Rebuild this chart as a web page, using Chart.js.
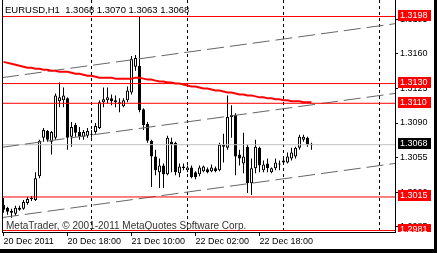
<!DOCTYPE html>
<html><head><meta charset="utf-8">
<script src="https://cdn.jsdelivr.net/npm/chart.js@4"></script>
<style>html,body{margin:0;padding:0;background:#000;overflow:hidden}canvas{display:block}</style>
</head><body>
<canvas id="c" width="434" height="249"></canvas>
<script>
// EURUSD H1 candles (open, high, low, close)
const opens  = [1.3007,1.3004,1.3001,1.2998,1.3002,1.3003,1.3009,1.3013,1.3012,1.3036,
                1.3075,1.3082,1.3071,1.3075,1.3112,1.3113,1.3115,1.3076,1.3088,1.3081,
                1.3076,1.3077,1.3078,1.3081,1.3085,1.3111,1.3113,1.3115,1.3113,1.3111,
                1.3107,1.3113,1.3121,1.3147,1.3148,1.3104,1.3089,1.3072,1.3056,1.3040,
                1.3047,1.3038,1.3071,1.3070,1.3039,1.3046,1.3042,1.3045,1.3040,1.3038,
                1.3041,1.3043,1.3041,1.3044,1.3042,1.3068,1.3065,1.3096,1.3098,1.3058,
                1.3049,1.3066,1.3029,1.3044,1.3065,1.3042,1.3049,1.3040,1.3044,1.3048,
                1.3050,1.3050,1.3054,1.3056,1.3065,1.3073,1.3075,1.3068];
const highs  = [1.3014,1.3005,1.3003,1.3006,1.3006,1.3012,1.3015,1.3016,1.3040,1.3073,
                1.3085,1.3083,1.3082,1.3120,1.3131,1.3126,1.3116,1.3091,1.3090,1.3086,
                1.3083,1.3085,1.3083,1.3090,1.3113,1.3126,1.3126,1.3119,1.3118,1.3115,
                1.3115,1.3127,1.3158,1.3159,1.3198,1.3105,1.3091,1.3073,1.3063,1.3054,
                1.3049,1.3077,1.3075,1.3071,1.3049,1.3049,1.3047,1.3047,1.3041,1.3047,
                1.3047,1.3045,1.3048,1.3046,1.3070,1.3079,1.3118,1.3108,1.3100,1.3063,
                1.3080,1.3068,1.3054,1.3073,1.3066,1.3052,1.3054,1.3045,1.3054,1.3052,
                1.3056,1.3060,1.3065,1.3066,1.3078,1.3078,1.3076,1.3070];
const lows   = [1.2999,1.2997,1.2994,1.2996,1.3001,1.3002,1.3007,1.3011,1.3011,1.3034,
                1.3071,1.3071,1.3058,1.3073,1.3106,1.3106,1.3063,1.3066,1.3076,1.3073,
                1.3073,1.3075,1.3075,1.3079,1.3084,1.3106,1.3110,1.3108,1.3106,1.3101,
                1.3106,1.3111,1.3119,1.3143,1.3101,1.3083,1.3070,1.3025,1.3037,1.3024,
                1.3024,1.3037,1.3040,1.3037,1.3035,1.3042,1.3040,1.3034,1.3033,1.3036,
                1.3040,1.3039,1.3040,1.3040,1.3041,1.3050,1.3063,1.3075,1.3037,1.3047,
                1.3039,1.3019,1.3017,1.3039,1.3040,1.3040,1.3040,1.3039,1.3042,1.3042,
                1.3049,1.3049,1.3052,1.3054,1.3063,1.3071,1.3066,1.3063];
const closes = [1.3002,1.3000,1.2999,1.3004,1.3004,1.3010,1.3013,1.3014,1.3034,1.3072,
                1.3083,1.3073,1.3081,1.3118,1.3116,1.3118,1.3075,1.3086,1.3080,1.3076,
                1.3081,1.3082,1.3079,1.3087,1.3111,1.3114,1.3116,1.3112,1.3111,1.3109,
                1.3113,1.3123,1.3155,1.3156,1.3103,1.3088,1.3072,1.3056,1.3042,1.3047,
                1.3038,1.3075,1.3068,1.3040,1.3046,1.3044,1.3045,1.3035,1.3035,1.3045,
                1.3046,1.3040,1.3045,1.3041,1.3068,1.3066,1.3096,1.3098,1.3056,1.3054,
                1.3056,1.3029,1.3044,1.3066,1.3047,1.3048,1.3044,1.3044,1.3050,1.3049,
                1.3052,1.3056,1.3060,1.3065,1.3076,1.3076,1.3068,1.3068];
// moving average (red)
const maValues = [1.3152,1.3151,1.3150,1.3149,1.3148,1.3147,1.3146,1.3146,1.3145,1.3145,
                  1.3144,1.3144,1.3143,1.3143,1.3142,1.3142,1.3142,1.3141,1.3140,1.3140,
                  1.3139,1.3138,1.3138,1.3137,1.3136,1.3136,1.3136,1.3136,1.3135,1.3135,
                  1.3135,1.3135,1.3135,1.3136,1.3136,1.3135,1.3134,1.3134,1.3133,1.3132,
                  1.3132,1.3131,1.3131,1.3130,1.3130,1.3129,1.3128,1.3127,1.3127,1.3126,
                  1.3125,1.3125,1.3124,1.3123,1.3123,1.3122,1.3121,1.3121,1.3120,1.3119,
                  1.3119,1.3118,1.3118,1.3117,1.3116,1.3116,1.3115,1.3115,1.3114,1.3114,
                  1.3113,1.3113,1.3112,1.3112,1.3112,1.3111,1.3111,1.3111];
// trend channel (value at left edge, value at right edge)
const channelUpper = [1.31360, 1.31907];
const channelMid   = [1.30654, 1.31200];
const channelLow   = [1.29941, 1.30490];
// horizontal levels and bid
const levels = [1.3198, 1.3130, 1.3110, 1.3015, 1.2981];
const bid = 1.3068;
// axis ticks
const xTickIdx = [0, 16, 32, 48, 64];
const xTickLabels = ['20 Dec 2011', '20 Dec 18:00', '21 Dec 10:00', '22 Dec 02:00', '22 Dec 18:00'];
const dayGridIdx = [22, 46, 70, 94];
const yTicks = [1.2985, 1.3020, 1.3055, 1.3090, 1.3125, 1.3160, 1.3195];
const headerText = 'EURUSD,H1  1.3068 1.3070 1.3063 1.3068';
const copyrightText = 'MetaTrader, \u00A9 2001-2011 MetaQuotes Software Corp.';

const xMin = -0.375, xMax = 97.875;
const yMin = 1.297948, yMax = 1.321473;

Chart.defaults.font.family = '"Liberation Sans", Arial, sans-serif';
Chart.defaults.font.size = 9;
Chart.defaults.color = '#000';

const idx = opens.map((_, i) => i);
const hline = (v) => [{x: xMin, y: v}, {x: xMax, y: v}];
const lineDs = (data, color, width, dash, order) => ({
  type: 'line', data, borderColor: color, borderWidth: width, borderDash: dash,
  pointRadius: 0, fill: false, tension: 0, order, xAxisID: 'x', yAxisID: 'y'
});

const datasets = [
  {type: 'bar', data: idx.map(i => ({x: i, y: [lows[i], highs[i]]})), backgroundColor: '#000',
   borderWidth: 0, barThickness: 1, grouped: false, inflateAmount: 0, order: 11},
  {type: 'bar', data: idx.map(i => ({x: i, y: [opens[i], closes[i]]})),
   backgroundColor: idx.map(i => closes[i] >= opens[i] ? '#fff' : '#000'),
   borderColor: '#000', borderWidth: 1, borderSkipped: false, minBarLength: 1,
   barThickness: 3, grouped: false, inflateAmount: 0, order: 10},
  lineDs(hline(bid), '#c0c0c0', 1, [], 9),
  lineDs([{x: xMin, y: channelUpper[0]}, {x: xMax, y: channelUpper[1]}], '#666666', 1, [17, 6], 5),
  lineDs([{x: xMin, y: channelMid[0]}, {x: xMax, y: channelMid[1]}], '#666666', 1, [17, 6], 5),
  lineDs([{x: xMin, y: channelLow[0]}, {x: xMax, y: channelLow[1]}], '#666666', 1, [17, 6], 5),
  ...levels.map(v => lineDs(hline(v), '#ff0000', 1, [], 3)),
  lineDs(idx.map(i => ({x: i, y: maValues[i]})), '#ff0000', 2, [], 1)
];

const decor = {
  id: 'decor',
  beforeDraw(chart) {
    const ctx = chart.ctx;
    ctx.save(); ctx.fillStyle = '#fff'; ctx.fillRect(0, 0, chart.width, chart.height); ctx.restore();
  },
  afterDraw(chart) {
    const {ctx, chartArea: ca, scales} = chart;
    const y = scales.y;
    ctx.save();
    ctx.fillStyle = '#000';
    ctx.fillRect(ca.left, 0, 1, ca.bottom);
    ctx.textBaseline = 'middle';
    ctx.textAlign = 'left';
    ctx.font = '9.5px "Liberation Sans", Arial, sans-serif';
    ctx.fillText(headerText, 5, 10.5);
    ctx.fillStyle = '#333';
    ctx.font = '10px "Liberation Sans", Arial, sans-serif';
    ctx.fillText(copyrightText, 6, 226.5);
    ctx.beginPath(); ctx.rect(ca.right + 1, 0, chart.width, ca.bottom); ctx.clip();
    ctx.font = '9px "Liberation Sans", Arial, sans-serif';
    const box = (v, bg) => {
      const row = Math.floor(y.getPixelForValue(v));
      ctx.fillStyle = bg; ctx.fillRect(398, row - 6, 33, 11);
      ctx.fillStyle = '#fff'; ctx.fillText(v.toFixed(4), 400, row - 0.5);
    };
    levels.forEach(v => box(v, '#ff0000'));
    box(bid, '#000');
    ctx.restore();
  }
};

new Chart(document.getElementById('c'), {
  type: 'bar',
  data: {datasets},
  plugins: [decor],
  options: {
    responsive: false, animation: false, devicePixelRatio: 1, events: [],
    layout: {padding: {left: 2, top: 0, right: 0, bottom: 0}},
    plugins: {legend: {display: false}, tooltip: {enabled: false}, title: {display: false}},
    scales: {
      x: {
        type: 'linear', position: 'bottom', min: xMin, max: xMax, offset: false,
        afterBuildTicks: a => { a.ticks = xTickIdx.map(v => ({value: v})); },
        afterFit: a => { a.height = 17; a.paddingLeft = 0; a.paddingRight = 0; },
        ticks: {autoSkip: false, maxRotation: 0, minRotation: 0, align: 'start', padding: 0,
                color: '#000', callback: v => xTickLabels[xTickIdx.indexOf(v)]},
        grid: {drawOnChartArea: false, drawTicks: true, tickLength: 4, tickColor: '#000', offset: false},
        border: {display: true, color: '#000', width: 1}
      },
      xg: {
        type: 'linear', position: 'bottom', min: xMin, max: xMax, offset: false,
        afterBuildTicks: a => { a.ticks = dayGridIdx.map(v => ({value: v})); },
        afterFit: a => { a.height = 0; a.paddingLeft = 0; a.paddingRight = 0; },
        ticks: {display: false},
        grid: {drawOnChartArea: true, drawTicks: false, color: '#000', lineWidth: 1, borderDash: [3, 3], offset: false},
        border: {display: false, dash: [3, 3]}
      },
      y: {
        type: 'linear', position: 'right', min: yMin, max: yMax,
        afterBuildTicks: a => { a.ticks = yTicks.map(v => ({value: v})); },
        afterFit: a => { a.width = 39; a.paddingTop = 0; a.paddingBottom = 0; },
        ticks: {autoSkip: false, padding: 2, color: '#000', callback: v => v.toFixed(4)},
        grid: {drawOnChartArea: false, tickLength: 3, tickColor: '#000'},
        border: {display: true, color: '#000', width: 1}
      }
    }
  }
});
</script>
</body></html>
